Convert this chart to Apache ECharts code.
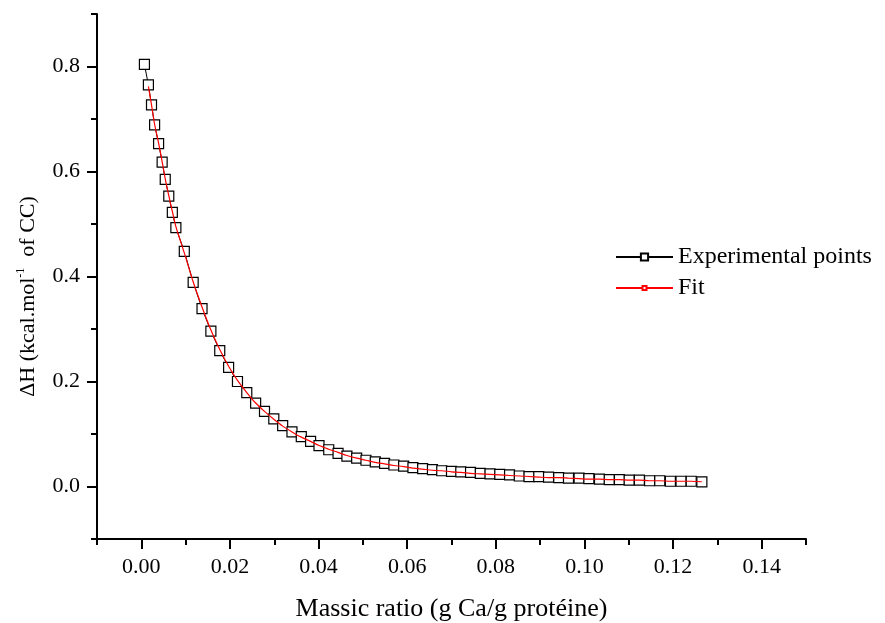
<!DOCTYPE html>
<html>
<head>
<meta charset="utf-8">
<script src="https://cdn.jsdelivr.net/npm/echarts@6/dist/echarts.min.js"></script>
<style>html,body{margin:0;padding:0;background:#fff}#c{width:885px;height:623px}</style>
</head>
<body>
<div id="c"></div>
<script>
// Experimental points
const massicRatio = [
  0.0007, 0.0016, 0.0023, 0.0030, 0.0039, 0.0047, 0.0054, 0.0062, 0.0070, 0.0078,
  0.0097, 0.0117, 0.0137, 0.0157, 0.0177, 0.0197, 0.0217, 0.0238, 0.0258, 0.0278,
  0.0299, 0.0319, 0.0340, 0.0361, 0.0382, 0.0401, 0.0423, 0.0444, 0.0464, 0.0486,
  0.0507, 0.0528, 0.0549, 0.0570, 0.0592, 0.0613, 0.0635, 0.0657, 0.0678, 0.0700,
  0.0721, 0.0743, 0.0765, 0.0787, 0.0809, 0.0831, 0.0853, 0.0875, 0.0897, 0.0919,
  0.0942, 0.0964, 0.0988, 0.1010, 0.1034, 0.1056, 0.1079, 0.1101, 0.1124, 0.1147,
  0.1170, 0.1194, 0.1218, 0.1241, 0.1265
];
const deltaH = [
  0.804, 0.765, 0.727, 0.689, 0.653, 0.618, 0.585, 0.553, 0.522, 0.493,
  0.448, 0.389, 0.339, 0.296, 0.259, 0.227, 0.200, 0.179, 0.159, 0.143,
  0.129, 0.116, 0.104, 0.095, 0.086, 0.078, 0.070, 0.063, 0.058, 0.054,
  0.050, 0.047, 0.044, 0.041, 0.039, 0.036, 0.034, 0.032, 0.030, 0.029,
  0.028, 0.027, 0.025, 0.024, 0.023, 0.022, 0.020, 0.019, 0.019, 0.018,
  0.017, 0.016, 0.016, 0.015, 0.014, 0.013, 0.013, 0.012, 0.012, 0.011,
  0.011, 0.010, 0.010, 0.010, 0.009
];
// Fit curve (evaluated at experimental x values from the 2nd point on)
const fitRatio = massicRatio.slice(1);
const fitDeltaH = [
  0.762, 0.727, 0.690, 0.654, 0.619, 0.586, 0.554, 0.524, 0.495, 0.445,
  0.390, 0.342, 0.298, 0.261, 0.229, 0.202, 0.179, 0.159, 0.143, 0.128,
  0.115, 0.104, 0.094, 0.086, 0.078, 0.071, 0.065, 0.059, 0.054, 0.050,
  0.046, 0.043, 0.040, 0.038, 0.035, 0.033, 0.031, 0.030, 0.028, 0.027,
  0.025, 0.024, 0.023, 0.022, 0.021, 0.020, 0.019, 0.018, 0.017, 0.017,
  0.016, 0.015, 0.014, 0.014, 0.013, 0.013, 0.012, 0.012, 0.011, 0.011,
  0.010, 0.010, 0.010, 0.009
];
// Ticks
const xMajorTicks = [0, 0.02, 0.04, 0.06, 0.08, 0.10, 0.12, 0.14];
const xMinorTicks = [-0.01, 0.01, 0.03, 0.05, 0.07, 0.09, 0.11, 0.13, 0.15];
const yMajorTicks = [0, 0.2, 0.4, 0.6, 0.8];
const yMinorTicks = [-0.1, 0.1, 0.3, 0.5, 0.7, 0.9];

const FONT = 'Liberation Serif';
const zip = (xs, ys) => xs.map((x, i) => [x, ys[i]]);

const axisCommon = {
  type: 'value',
  splitLine: { show: false },
  axisLine: { show: true, onZero: false, lineStyle: { color: '#000', width: 2 } },
};

const chart = echarts.init(document.getElementById('c'), null, { renderer: 'canvas' });
chart.setOption({
  animation: false,
  backgroundColor: '#fff',
  grid: { left: 97, right: 79, top: 14, bottom: 84, containLabel: false, outerBoundsMode: 'none' },
  legend: [
    {
      data: ['Experimental points'], left: 615, top: 245, padding: 0,
      itemWidth: 57, itemHeight: 9,
      textStyle: { fontFamily: FONT, fontSize: 24, color: '#000' }
    },
    {
      data: ['Fit'], left: 615, top: 276, padding: 0,
      itemWidth: 57, itemHeight: 5,
      textStyle: { fontFamily: FONT, fontSize: 24, color: '#000' }
    }
  ],
  xAxis: [
    Object.assign({}, axisCommon, {
      position: 'bottom', min: -0.01, max: 0.15,
      name: 'Massic ratio (g Ca/g protéine)', nameLocation: 'middle', nameGap: 57,
      nameTextStyle: { fontFamily: FONT, fontSize: 26, color: '#000' },
      axisTick: { show: true, customValues: xMajorTicks, length: 10, lineStyle: { color: '#000', width: 2 } },
      axisLabel: { customValues: xMajorTicks, margin: 17, fontFamily: FONT, fontSize: 22, color: '#000',
                   formatter: v => v.toFixed(2) }
    }),
    Object.assign({}, axisCommon, {
      position: 'bottom', min: -0.01, max: 0.15,
      axisLine: { show: false, onZero: false },
      axisTick: { show: true, customValues: xMinorTicks, length: 6, lineStyle: { color: '#000', width: 2 } },
      axisLabel: { show: false }
    })
  ],
  yAxis: [
    Object.assign({}, axisCommon, {
      position: 'left', min: -0.1, max: 0.9,
      name: '{n|ΔH (kcal.mol}{s|-1}{n|  of CC)}', nameLocation: 'middle', nameGap: 56,
      nameTextStyle: {
        fontFamily: FONT, fontSize: 22, color: '#000', padding: [0, 40, 0, 0],
        rich: {
          n: { fontFamily: FONT, fontSize: 22, color: '#000', lineHeight: 26 },
          s: { fontFamily: FONT, fontSize: 12, color: '#000', lineHeight: 14, verticalAlign: 'top' }
        }
      },
      axisTick: { show: true, customValues: yMajorTicks, length: 10, lineStyle: { color: '#000', width: 2 } },
      axisLabel: { customValues: yMajorTicks, margin: 17, fontFamily: FONT, fontSize: 22, color: '#000',
                   formatter: v => v.toFixed(1) }
    }),
    Object.assign({}, axisCommon, {
      position: 'left', min: -0.1, max: 0.9,
      axisLine: { show: false, onZero: false },
      axisTick: { show: true, customValues: yMinorTicks, length: 6, lineStyle: { color: '#000', width: 2 } },
      axisLabel: { show: false }
    })
  ],
  series: [
    {
      name: 'Experimental points', type: 'line',
      xAxisIndex: 0, yAxisIndex: 0,
      data: zip(massicRatio, deltaH),
      symbol: 'rect', symbolSize: 10, showSymbol: true,
      lineStyle: { color: '#000', width: 1 },
      itemStyle: { color: '#fff', borderColor: '#000', borderWidth: 1.2 },
      z: 2
    },
    {
      name: 'Fit', type: 'line',
      xAxisIndex: 0, yAxisIndex: 0,
      data: zip(fitRatio, fitDeltaH),
      symbol: 'rect', symbolSize: 4, showSymbol: false, smooth: 0.3,
      lineStyle: { color: '#ff0000', width: 1.2 },
      itemStyle: { color: '#fff', borderColor: '#ff0000', borderWidth: 1 },
      z: 3
    }
  ]
});
</script>
</body>
</html>
